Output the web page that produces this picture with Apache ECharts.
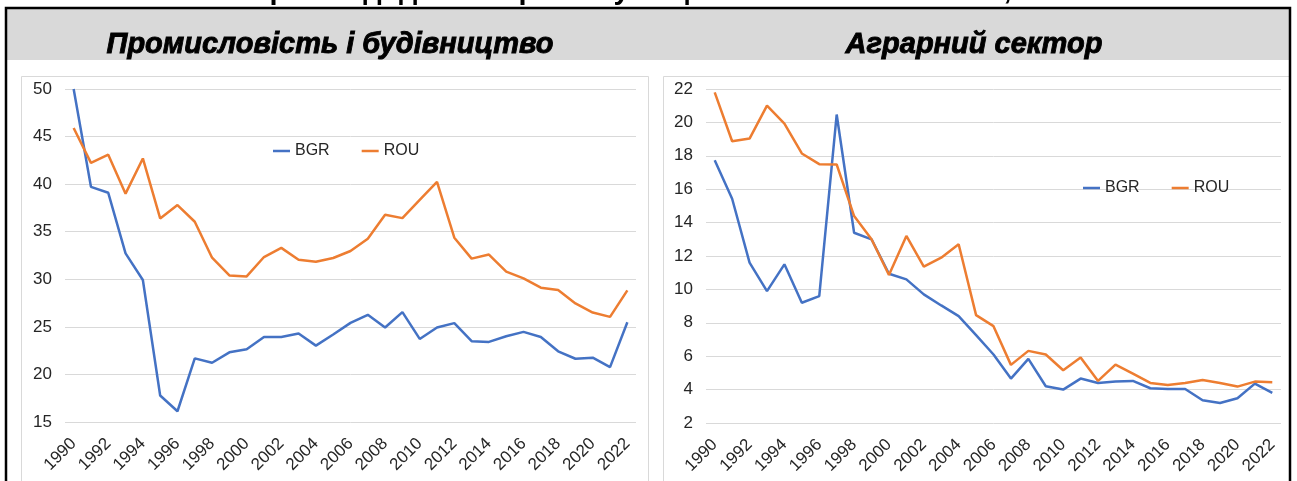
<!DOCTYPE html>
<html>
<head>
<meta charset="utf-8">
<script src="https://cdn.jsdelivr.net/npm/echarts@6/dist/echarts.min.js"></script>
<style>
html,body{margin:0;padding:0;background:#fff;}
#c{width:1297px;height:481px;}
</style>
</head>
<body>
<div id="c"></div>
<script>
const years = [];
for (let y = 1990; y <= 2022; y++) years.push(String(y));

const industryBGR = [50.0,39.72,39.09,32.73,29.93,17.78,16.13,21.69,21.23,22.32,22.64,23.94,23.94,24.3,23.03,24.2,25.42,26.27,24.93,26.55,23.73,24.93,25.39,23.49,23.42,24.01,24.47,23.94,22.43,21.65,21.76,20.77,25.49];
const industryROU = [45.9,42.24,43.1,39.0,42.7,36.4,37.8,36.05,32.27,30.4,30.3,32.34,33.3,32.06,31.85,32.24,32.97,34.27,36.78,36.43,38.35,40.24,34.37,32.17,32.6,30.8,30.1,29.12,28.87,27.46,26.5,26.05,28.84];
const agriBGR = [17.74,15.43,11.6,9.9,11.5,9.2,9.6,20.47,13.39,13.0,10.94,10.6,9.7,9.04,8.4,7.26,6.1,4.66,5.84,4.2,4.0,4.66,4.4,4.48,4.52,4.08,4.04,4.04,3.36,3.2,3.48,4.36,3.8];
const agriROU = [21.8,18.87,19.03,21.0,19.93,18.14,17.5,17.48,14.39,13.0,10.86,13.2,11.36,11.9,12.7,8.46,7.8,5.48,6.32,6.1,5.16,5.92,4.52,5.5,4.96,4.4,4.28,4.4,4.58,4.4,4.18,4.48,4.44];

const seriesNames = ['BGR', 'ROU'];
const mainTitle = 'Створення доданої вартості у національних економіках,';
const mainTitleUnit = ' % ВВП';
const leftTitle = 'Промисловість і будівництво';
const rightTitle = 'Аграрний сектор';

const FONT = '"Liberation Sans", Arial, sans-serif';
const BLUE = '#4472C4', ORANGE = '#ED7D31';
const labelColor = '#262626';

function xAxis(gi) {
  return {
    type: 'category', gridIndex: gi, data: years, boundaryGap: true,
    axisLine: {show: false}, axisTick: {show: false},
    axisLabel: {interval: 1, rotate: 45, fontSize: 17, color: labelColor, fontFamily: FONT, margin: 19}
  };
}
function yAxis(gi, min, max, interval) {
  return {
    type: 'value', gridIndex: gi, min: min, max: max, interval: interval,
    axisLine: {show: false}, axisTick: {show: false},
    splitLine: {lineStyle: {color: '#d9d9d9', width: 1}},
    axisLabel: {fontSize: 17, color: labelColor, fontFamily: FONT, margin: 13}
  };
}
function line(name, data, color, gi) {
  return {
    type: 'line', name: name, data: data, xAxisIndex: gi, yAxisIndex: gi,
    symbol: 'none', smooth: false,
    lineStyle: {color: color, width: 2.5}, itemStyle: {color: color},
    animation: false
  };
}
function legend(left, top) {
  return {left: left, top: top, icon: 'rect', itemWidth: 17, itemHeight: 2.5, itemGap: 32,
    textStyle: {fontSize: 16, color: labelColor, fontFamily: FONT}, data: seriesNames};
}

const chart = echarts.init(document.getElementById('c'), null, {renderer: 'canvas'});
chart.setOption({
  backgroundColor: '#ffffff',
  animation: false,
  grid: [
    {left: 65, top: 89, width: 571, height: 333},
    {left: 706, top: 89, width: 575, height: 334}
  ],
  xAxis: [xAxis(0), xAxis(1)],
  yAxis: [yAxis(0, 15, 50, 5), yAxis(1, 2, 22, 2)],
  legend: [legend(268, 138), legend(1078, 175)],
  series: [
    line(seriesNames[0], industryBGR, BLUE, 0),
    line(seriesNames[1], industryROU, ORANGE, 0),
    line(seriesNames[0], agriBGR, BLUE, 1),
    line(seriesNames[1], agriROU, ORANGE, 1)
  ],
  graphic: [
    {type: 'rect', z: -10, shape: {x: 7, y: 9, width: 1282, height: 51}, style: {fill: '#d9d9d9'}},
    {type: 'rect', z: -5, shape: {x: 21.5, y: 76.5, width: 627, height: 440}, style: {fill: 'none', stroke: '#d9d9d9', lineWidth: 1}},
    {type: 'rect', z: -5, shape: {x: 663.5, y: 76.5, width: 627, height: 440}, style: {fill: 'none', stroke: '#d9d9d9', lineWidth: 1}},
    {type: 'text', z: 10, x: 656, y: 5, style: {
      text: '{b|' + mainTitle + '}{n|' + mainTitleUnit + '}', align: 'center', verticalAlign: 'bottom',
      rich: {b: {fontSize: 29, fontWeight: 'bold', fontFamily: FONT, fill: '#000'},
             n: {fontSize: 29, fontWeight: 'normal', fontFamily: FONT, fill: '#000'}}}},
    {type: 'rect', z: 10, shape: {x: 6, y: 8, width: 1284, height: 520}, style: {fill: 'none', stroke: '#000', lineWidth: 2.5}},
    {type: 'text', z: 10, x: 330, y: 45, style: {text: leftTitle, align: 'center', verticalAlign: 'middle',
      fontSize: 29, fontWeight: 'bold', fontStyle: 'italic', fontFamily: FONT, fill: '#000', stroke: '#000', lineWidth: 0.9}},
    {type: 'text', z: 10, x: 974, y: 45, style: {text: rightTitle, align: 'center', verticalAlign: 'middle',
      fontSize: 29, fontWeight: 'bold', fontStyle: 'italic', fontFamily: FONT, fill: '#000', stroke: '#000', lineWidth: 0.9}}
  ]
});
</script>
</body>
</html>
